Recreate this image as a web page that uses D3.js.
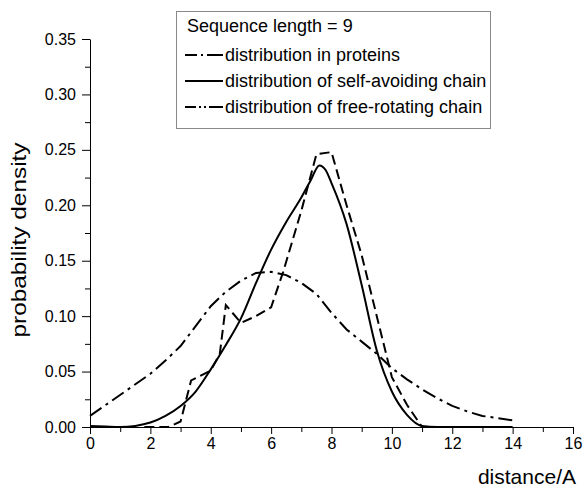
<!DOCTYPE html>
<html>
<head>
<meta charset="utf-8">
<script src="https://cdn.jsdelivr.net/npm/d3@7"></script>
<style>
    body { margin: 0; background: #fff; }
    svg { font-family: "Liberation Sans", Arial, sans-serif; }
</style>
</head>
<body>
<svg id="chart" width="584" height="489"></svg>
<script>
var protein_x = [1.8, 2.6, 3.0, 3.35, 4.0, 4.3, 4.5, 5.0, 5.5, 6.0, 6.4, 7.0, 7.5, 8.0, 8.5, 9.0, 9.5, 10.0, 10.5, 11.0];
var protein_y = [0, 0, 0.005, 0.042, 0.051, 0.066, 0.11, 0.094, 0.1, 0.108, 0.14, 0.195, 0.246, 0.248, 0.2, 0.155, 0.1, 0.045, 0.02, 0];

var saw_x = [0, 0.5, 1, 1.5, 2, 2.5, 3, 3.5, 4, 4.5, 5, 5.5, 6, 6.5, 7, 7.3, 7.6, 7.8, 8, 8.5, 9, 9.5, 10, 10.5, 11, 11.5, 12, 13, 14];
var saw_y = [0.001, 0.0005, 0, 0.001, 0.004, 0.01, 0.019, 0.032, 0.052, 0.074, 0.098, 0.13, 0.16, 0.185, 0.207, 0.222, 0.236, 0.232, 0.22, 0.183, 0.128, 0.069, 0.032, 0.011, 0.001, 0, 0, 0, 0];

var frc_x = [0, 2, 2.5, 3, 3.5, 4, 4.5, 5, 5.5, 6, 6.5, 7, 7.5, 8, 8.5, 9, 9.5, 10, 10.5, 11, 11.5, 12, 12.5, 13, 13.5, 14];
var frc_y = [0.01, 0.048, 0.06, 0.073, 0.091, 0.109, 0.122, 0.132, 0.139, 0.14, 0.137, 0.13, 0.12, 0.103, 0.088, 0.077, 0.066, 0.053, 0.043, 0.034, 0.026, 0.019, 0.014, 0.01, 0.008, 0.006];

var x_ticks = [0, 2, 4, 6, 8, 10, 12, 14, 16];
var y_ticks = [0, 0.05, 0.10, 0.15, 0.20, 0.25, 0.30, 0.35];

var legend_title = "Sequence length = 9";
var legend_names = ["distribution in proteins", "distribution of self-avoiding chain", "distribution of free-rotating chain"];

var svg = d3.select("#chart");

var x = d3.scaleLinear().domain([0, 16]).range([90, 573]);
var y = d3.scaleLinear().domain([0, 0.35]).range([427, 39]);

// minor ticks first, majors on top
svg.append("g")
    .attr("transform", "translate(0,427)")
    .call(d3.axisBottom(x).tickValues(d3.range(1, 16, 2)).tickSize(5).tickFormat(""))
    .call(function (g) { g.select(".domain").remove(); });

svg.append("g")
    .attr("transform", "translate(90,0)")
    .call(d3.axisLeft(y).tickValues(d3.range(0.025, 0.35, 0.05)).tickSize(5).tickFormat(""))
    .call(function (g) { g.select(".domain").remove(); });

var xAxis = svg.append("g")
    .attr("transform", "translate(0,427)")
    .call(d3.axisBottom(x).tickValues(x_ticks).tickSize(7).tickPadding(4).tickSizeOuter(0).tickFormat(d3.format("d")));

var yAxis = svg.append("g")
    .attr("transform", "translate(90,0)")
    .call(d3.axisLeft(y).tickValues(y_ticks).tickSize(8).tickPadding(6).tickSizeOuter(0).tickFormat(d3.format(".2f")));

svg.selectAll(".tick text")
    .style("font-size", "16px")
    .style("font-family", "Liberation Sans, Arial, sans-serif")
    .style("fill", "#000");
svg.selectAll(".tick line, .domain").style("stroke", "#000");

svg.append("text")
    .attr("transform", "translate(26,240) rotate(-90)")
    .attr("text-anchor", "middle")
    .attr("textLength", 195)
    .attr("lengthAdjust", "spacingAndGlyphs")
    .style("font-size", "20px")
    .text("probability density");

svg.append("text")
    .attr("x", 576)
    .attr("y", 484)
    .attr("text-anchor", "end")
    .style("font-size", "21px")
    .text("distance/A");

function pairs(xs, ys) {
    return xs.map(function (d, i) { return [d, ys[i]]; });
}

var line = d3.line()
    .x(function (d) { return x(d[0]); })
    .y(function (d) { return y(d[1]); });

svg.append("path")
    .datum(pairs(frc_x, frc_y))
    .attr("d", line)
    .style("fill", "none")
    .style("stroke", "#000")
    .style("stroke-width", 2)
    .style("stroke-dasharray", "14,5,3,5");

svg.append("path")
    .datum(pairs(protein_x, protein_y))
    .attr("d", line)
    .style("fill", "none")
    .style("stroke", "#000")
    .style("stroke-width", 2)
    .style("stroke-dasharray", "10,5");

svg.append("path")
    .datum(pairs(saw_x, saw_y))
    .attr("d", line.curve(d3.curveMonotoneX))
    .style("fill", "none")
    .style("stroke", "#000")
    .style("stroke-width", 2);

// legend
var legend = svg.append("g");

legend.append("rect")
    .attr("x", 176.5)
    .attr("y", 11.5)
    .attr("width", 314)
    .attr("height", 117)
    .style("fill", "#fff")
    .style("stroke", "#888");

legend.append("text")
    .attr("x", 187)
    .attr("y", 32)
    .style("font-size", "18px")
    .text(legend_title);

var legend_dash = ["12,4,2,4,16", null, "11,3,2,3,2,3,14"];

legend.selectAll(".legend_line")
    .data(legend_names)
    .join("line")
    .attr("class", "legend_line")
    .attr("x1", 185)
    .attr("x2", 223)
    .attr("y1", function (d, i) { return 55 + i * 26; })
    .attr("y2", function (d, i) { return 55 + i * 26; })
    .style("stroke", "#000")
    .style("stroke-width", 2)
    .style("stroke-dasharray", function (d, i) { return legend_dash[i]; });

legend.selectAll(".legend_text")
    .data(legend_names)
    .join("text")
    .attr("class", "legend_text")
    .attr("x", 225)
    .attr("y", function (d, i) { return 61 + i * 26; })
    .style("font-size", "18px")
    .text(function (d) { return d; });
</script>
</body>
</html>
